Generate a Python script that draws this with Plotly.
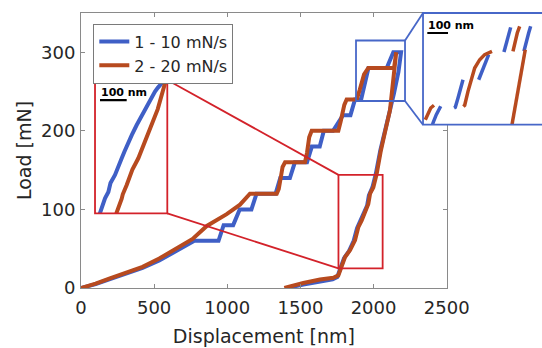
import plotly.graph_objects as go

# ---------------- main load-displacement data (nm, mN) ----------------
blue_load_disp = [0, 100, 193, 300, 421, 535, 650, 720, 775, 940, 975, 1040, 1085, 1165,
                  1200, 1330, 1362, 1428, 1462, 1545, 1578, 1632, 1660, 1723, 1791, 1842,
                  1873, 1915, 1965, 2090, 2135, 2188]
blue_load_mn = [0, 5, 11, 17.5, 25.5, 35, 47, 55, 60, 60, 80, 80, 100, 100,
                120, 120, 140, 140, 160, 160, 180, 180, 200, 200, 220, 220,
                240, 240, 280, 280, 300, 300]
blue_unload_disp = [2170, 2140, 2110, 2077, 2046, 2015, 1992, 1968, 1956, 1911, 1887, 1864,
                    1832, 1798, 1775, 1752, 1720, 1630, 1520, 1420, 1400]
blue_unload_mn = [275, 248, 226, 200, 175, 145, 128, 118, 105, 86, 76, 60,
                  47, 38, 27, 14, 11, 8.5, 4.5, 0.5, 0]

red_load_disp = [0, 100, 193, 300, 421, 535, 650, 763, 860, 996, 1087, 1135, 1155, 1338,
                 1352, 1365, 1378, 1395, 1531, 1545, 1560, 1577, 1759, 1775, 1800, 1816,
                 1885, 1905, 1935, 1964, 2140, 2155]
red_load_mn = [0, 5.5, 12, 19, 27, 37.5, 50, 62.5, 79, 94, 106, 116, 120, 120,
               126, 140, 154, 160, 160, 172, 192, 200, 200, 212, 233, 240,
               240, 252, 272, 280, 280, 300]
red_unload_disp = [2112, 2080, 2050, 2021, 1998, 1976, 1964, 1919, 1896, 1873, 1839, 1805,
                   1782, 1759, 1725, 1634, 1520, 1406, 1390]
red_unload_mn = [226, 200, 175, 145, 128, 120, 107, 86, 77.5, 60.6, 48, 39.4,
                 28.8, 16, 13, 10.7, 6.4, 1.3, 0]

series_names = ["1 - 10 mN/s", "2 - 20 mN/s"]
x_ticks = [0, 500, 1000, 1500, 2000, 2500]
y_ticks = [0, 100, 200, 300]

# ------------- magnified views (displacement relative to view edge) -------------
# unloading detail (red frame)
ul_blue_dx = [14, 18.7, 28, 37.5, 50, 58, 74.9, 86, 100, 110, 124.7, 138, 156.2, 170,
              187.3, 205, 224.7, 235, 249.8, 256]
ul_blue_mn = [22, 25.9, 33, 38.4, 44, 52, 59.2, 65, 74.1, 80, 88.9, 95, 103.8, 110,
              118.7, 125, 133.6, 137, 141.1, 146]
ul_red_dx = [78, 81.3, 100, 104, 118.7, 135, 140, 162.2, 185, 190, 212.3, 235, 262.2, 267]
ul_red_mn = [22, 25.9, 38, 42, 50.3, 60, 64, 74.1, 88, 92, 103.8, 118, 141.1, 146]

# peak-load detail (blue frame); None separates recorded segments
pk_blue_dx = [45, 48.3, 64.2, 75.8, 85.5, None,
              150, 156.0, 169.1, 182.1, 193.2, None,
              269.0, 281.6, 298.0, 317.3, None,
              391.2, 402.3, 413.9, 423.6, None,
              487.8, 498.9, 510.5, 520.2]
pk_blue_mn = [237, 239.2, 244.9, 248.3, 250.7, None,
              249.5, 250.0, 256.4, 263.3, 269.0, None,
              269.0, 273.6, 279.4, 286.3, None,
              288.1, 294.3, 300.0, 305.1, None,
              288.6, 295.5, 301.2, 305.8]
pk_red_dx = [11.1, 24.2, 37.2, 53.1, None,
             195, 201.4, 217.4, 233.3, 249.7, 273.9, 298.0, 333.3, None,
             434.7, 445.8, 455.5, 467.1, None,
             494.1, 426.2]
pk_red_mn = [241.4, 246.1, 249.5, 251.4, None,
             250.5, 251.4, 261.0, 269.0, 277.1, 282.8, 286.3, 288.6, None,
             288.6, 295.5, 301.2, 305.8, None,
             289.7, 235]

SCALE_BAR_NM = 100

BLUE = "#3F5FC6"
RED = "#B74A1F"
FRAME_RED = "#D3222A"
FRAME_BLUE = "#4767C8"
AXIS_GREY = "#8A8A8A"
TEXT = "#262626"
FONT = "DejaVu Sans"

# ---------------- layout geometry ----------------
X_RANGE = [0, 2500]
Y_RANGE = [0, 350]
MAIN_XDOM = [0, 0.7933]
MAIN_YDOM = [0, 1]

UL_XDOM = [0.0304, 0.1872]
UL_YDOM = [0.2716, 0.7564]
UL_XRANGE = [0, 270.8]
UL_YRANGE = [25, 144]

PK_XDOM = [0.7419, 1.0]
PK_YDOM = [0.5938, 1.0]
PK_XRANGE = [0, 575]
PK_YRANGE = [238, 315]

# boxes marking the magnified regions on the main axes
UL_BOX = dict(x0=1760, x1=2062, y0=25, y1=144)
PK_BOX = dict(x0=1880, x1=2215, y0=238, y1=315)


def to_paper(x, y):
    px = MAIN_XDOM[0] + (MAIN_XDOM[1] - MAIN_XDOM[0]) * (x - X_RANGE[0]) / (X_RANGE[1] - X_RANGE[0])
    py = MAIN_YDOM[0] + (MAIN_YDOM[1] - MAIN_YDOM[0]) * (y - Y_RANGE[0]) / (Y_RANGE[1] - Y_RANGE[0])
    return px, py


fig = go.Figure()

fig.add_trace(go.Scatter(x=blue_load_disp + blue_unload_disp, y=blue_load_mn + blue_unload_mn,
                         mode="lines", name=series_names[0],
                         line=dict(color=BLUE, width=4), xaxis="x", yaxis="y"))
fig.add_trace(go.Scatter(x=red_load_disp + red_unload_disp, y=red_load_mn + red_unload_mn,
                         mode="lines", name=series_names[1],
                         line=dict(color=RED, width=4), xaxis="x", yaxis="y"))

fig.add_trace(go.Scatter(x=ul_blue_dx, y=ul_blue_mn, mode="lines", showlegend=False,
                         line=dict(color=BLUE, width=4), xaxis="x2", yaxis="y2"))
fig.add_trace(go.Scatter(x=ul_red_dx, y=ul_red_mn, mode="lines", showlegend=False,
                         line=dict(color=RED, width=4), xaxis="x2", yaxis="y2"))

fig.add_trace(go.Scatter(x=pk_blue_dx, y=pk_blue_mn, mode="lines", showlegend=False,
                         connectgaps=False,
                         line=dict(color=BLUE, width=3.5), xaxis="x3", yaxis="y3"))
fig.add_trace(go.Scatter(x=pk_red_dx, y=pk_red_mn, mode="lines", showlegend=False,
                         connectgaps=False,
                         line=dict(color=RED, width=3.5), xaxis="x3", yaxis="y3"))

axis_common = dict(showgrid=False, zeroline=False, showline=True, linecolor=AXIS_GREY,
                   linewidth=1, mirror="ticks", ticks="inside", ticklen=4,
                   tickcolor=AXIS_GREY, tickwidth=1, automargin=False,
                   tickfont=dict(family=FONT, size=18, color=TEXT))

inset_axis = dict(showgrid=False, zeroline=False, showline=False, showticklabels=False,
                  ticks="", fixedrange=True, automargin=False)

shapes = []
# region boxes on the main plot
for box, col in ((UL_BOX, FRAME_RED), (PK_BOX, FRAME_BLUE)):
    shapes.append(dict(type="rect", xref="x", yref="y", line=dict(color=col, width=1.8),
                       fillcolor="rgba(0,0,0,0)", layer="above", **box))

# frames of the magnified views
shapes.append(dict(type="rect", xref="paper", yref="paper",
                   x0=UL_XDOM[0], x1=UL_XDOM[1], y0=UL_YDOM[0], y1=UL_YDOM[1],
                   line=dict(color=FRAME_RED, width=1.8), layer="above"))
shapes.append(dict(type="path", xref="paper", yref="paper",
                   path=f"M 1.05,{PK_YDOM[1]} L {PK_XDOM[0]},{PK_YDOM[1]} "
                        f"L {PK_XDOM[0]},{PK_YDOM[0]} L 1.05,{PK_YDOM[0]}",
                   line=dict(color=FRAME_BLUE, width=1.8), layer="above"))

# connector lines between boxes and magnified views
bx, by = to_paper(UL_BOX["x0"], UL_BOX["y1"])
shapes.append(dict(type="line", xref="paper", yref="paper", x0=bx, y0=by,
                   x1=UL_XDOM[1], y1=UL_YDOM[1], line=dict(color=FRAME_RED, width=1.8)))
bx, by = to_paper(UL_BOX["x0"], UL_BOX["y0"])
shapes.append(dict(type="line", xref="paper", yref="paper", x0=bx, y0=by,
                   x1=UL_XDOM[1], y1=UL_YDOM[0], line=dict(color=FRAME_RED, width=1.8)))
bx, by = to_paper(PK_BOX["x1"], PK_BOX["y1"])
shapes.append(dict(type="line", xref="paper", yref="paper", x0=bx, y0=by,
                   x1=PK_XDOM[0], y1=PK_YDOM[1], line=dict(color=FRAME_BLUE, width=1.8)))
bx, by = to_paper(PK_BOX["x1"], PK_BOX["y0"])
shapes.append(dict(type="line", xref="paper", yref="paper", x0=bx, y0=by,
                   x1=PK_XDOM[0], y1=PK_YDOM[0], line=dict(color=FRAME_BLUE, width=1.8)))

# 100 nm scale bars
UL_BAR = dict(x=18.7, y=126.1)
PK_BAR = dict(x=20.8, y=301.2)
shapes.append(dict(type="line", xref="x2", yref="y2", x0=UL_BAR["x"], x1=UL_BAR["x"] + SCALE_BAR_NM,
                   y0=UL_BAR["y"], y1=UL_BAR["y"], line=dict(color="black", width=2.2)))
shapes.append(dict(type="line", xref="x3", yref="y3", x0=PK_BAR["x"], x1=PK_BAR["x"] + SCALE_BAR_NM,
                   y0=PK_BAR["y"], y1=PK_BAR["y"], line=dict(color="black", width=2.2)))

annotations = [
    dict(xref="x2", yref="y2", x=UL_BAR["x"], y=UL_BAR["y"], xanchor="left", yanchor="bottom",
         text=f"<b>{SCALE_BAR_NM} nm</b>", showarrow=False, borderpad=0, yshift=0,
         font=dict(family=FONT, size=11, color="black")),
    dict(xref="x3", yref="y3", x=PK_BAR["x"], y=PK_BAR["y"], xanchor="left", yanchor="bottom",
         text=f"<b>{SCALE_BAR_NM} nm</b>", showarrow=False, borderpad=0, yshift=0,
         font=dict(family=FONT, size=11, color="black")),
]

fig.update_layout(
    width=542, height=348,
    margin=dict(l=81, r=0, t=13, b=60, pad=0, autoexpand=False),
    paper_bgcolor="white", plot_bgcolor="white",
    font=dict(family=FONT, color=TEXT),
    xaxis=dict(domain=MAIN_XDOM, range=X_RANGE, tickvals=x_ticks, anchor="y",
               ticklabelstandoff=3,
               title=dict(text="Displacement [nm]", font=dict(family=FONT, size=19, color=TEXT),
                          standoff=13), **axis_common),
    yaxis=dict(domain=MAIN_YDOM, range=Y_RANGE, tickvals=y_ticks, anchor="x",
               ticklabelstandoff=1,
               title=dict(text="Load [mN]", font=dict(family=FONT, size=19, color=TEXT),
                          standoff=4), **axis_common),
    xaxis2=dict(domain=UL_XDOM, range=UL_XRANGE, anchor="y2", **inset_axis),
    yaxis2=dict(domain=UL_YDOM, range=UL_YRANGE, anchor="x2", **inset_axis),
    xaxis3=dict(domain=PK_XDOM, range=PK_XRANGE, anchor="y3", **inset_axis),
    yaxis3=dict(domain=PK_YDOM, range=PK_YRANGE, anchor="x3", **inset_axis),
    legend=dict(x=0.0267, y=0.9615, xanchor="left", yanchor="top",
                bgcolor="white", bordercolor="#7A7A7A", borderwidth=1,
                font=dict(family=FONT, size=16, color=TEXT),
                tracegroupgap=0, itemwidth=30),
    shapes=shapes,
    annotations=annotations,
    showlegend=True,
)

fig.write_html("out.html")
